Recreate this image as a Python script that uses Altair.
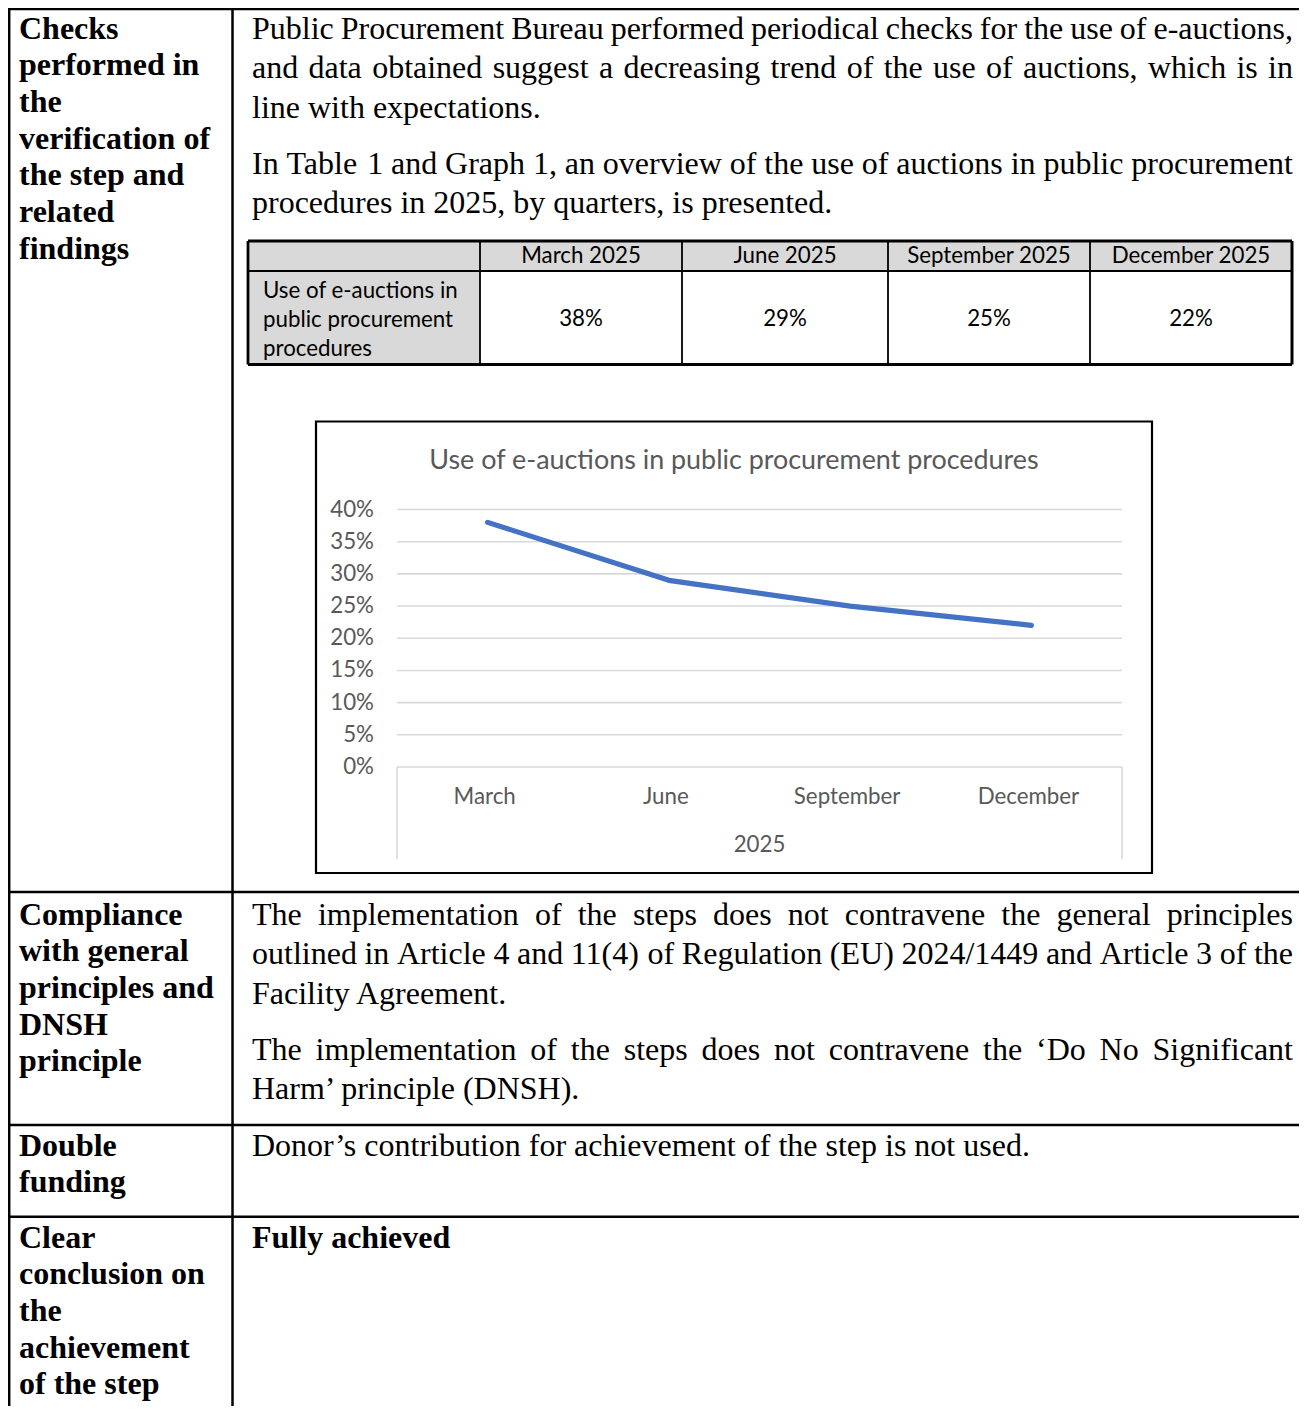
import altair as alt
import pandas as pd

# ---------------- chart data ----------------
months = ["March", "June", "September", "December"]
year = "2025"
usage = [0.38, 0.29, 0.25, 0.22]
y_ticks = [0.0, 0.05, 0.10, 0.15, 0.20, 0.25, 0.30, 0.35, 0.40]
chart_title = "Use of e-auctions in public procurement procedures"
row_label = ["Use of e-auctions in", "public procurement", "procedures"]

# ---------------- document text ----------------
left_headings = [
    ["Checks", "performed in", "the", "verification of", "the step and", "related", "findings"],
    ["Compliance", "with general", "principles and", "DNSH", "principle"],
    ["Double", "funding"],
    ["Clear", "conclusion on", "the", "achievement", "of the step"],
]
paragraphs = [
    ["Public Procurement Bureau performed periodical checks for the use of e-auctions,",
     "and data obtained suggest a decreasing trend of the use of auctions, which is in",
     "line with expectations."],
    ["In Table 1 and Graph 1, an overview of the use of auctions in public procurement",
     "procedures in 2025, by quarters, is presented."],
    ["The implementation of the steps does not contravene the general principles",
     "outlined in Article 4 and 11(4) of Regulation (EU) 2024/1449 and Article 3 of the",
     "Facility Agreement."],
    ["The implementation of the steps does not contravene the \u2018Do No Significant",
     "Harm\u2019 principle (DNSH)."],
    ["Donor\u2019s contribution for achievement of the step is not used."],
]
conclusion = "Fully achieved"

# ---------------- layout (image pixel coordinates) ----------------
OFF = 8                      # page margin
W, H = 1307 - 2 * OFF, 1414 - 2 * OFF


def c(v):
    return v - OFF


FS = 32                      # Times size
LEFT_X, RX0, RX1 = 19, 252, 1293
LEFT_STEP, RIGHT_STEP = 36.7, 39.6
left_first = [38.5, 924.5, 1155.5, 1247.5]
para_first = [38.5, 173.5, 924.5, 1059.5, 1155.5]
concl_first = 1247.5

TIMES = {' ': 250, '!': 333, '%': 833, "'": 180, '(': 333, ')': 333, ',': 250, '-': 333,
         '.': 250, '/': 278, ':': 278, ';': 278, '?': 444, '\u2018': 333, '\u2019': 333,
         'A': 722, 'B': 667, 'C': 667, 'D': 722, 'E': 611, 'F': 556, 'G': 722, 'H': 722,
         'I': 333, 'J': 389, 'K': 722, 'L': 611, 'M': 889, 'N': 722, 'O': 722, 'P': 556,
         'Q': 722, 'R': 667, 'S': 556, 'T': 611, 'U': 722, 'V': 722, 'W': 944, 'X': 722,
         'Y': 722, 'Z': 611, 'a': 444, 'b': 500, 'c': 444, 'd': 500, 'e': 444, 'f': 333,
         'g': 500, 'h': 500, 'i': 278, 'j': 278, 'k': 500, 'l': 278, 'm': 778, 'n': 500,
         'o': 500, 'p': 500, 'q': 500, 'r': 333, 's': 389, 't': 278, 'u': 500, 'v': 500,
         'w': 722, 'x': 500, 'y': 500, 'z': 444}


def tw(s):
    return sum(TIMES.get(ch, 500) for ch in s) / 1000.0 * FS


# regular justified body text, word by word
reg_rows = []
for para, y0 in zip(paragraphs, para_first):
    for i, line in enumerate(para):
        y = y0 + i * RIGHT_STEP
        words = line.split(" ")
        if i == len(para) - 1 or len(words) == 1:
            reg_rows.append(dict(text=line, px=c(RX0), py=c(y)))
        else:
            total = sum(tw(w) for w in words)
            gap = (RX1 - RX0 - total) / (len(words) - 1)
            x = RX0
            for w in words:
                reg_rows.append(dict(text=w, px=c(x), py=c(y)))
                x += tw(w) + gap
reg_df = pd.DataFrame(reg_rows)

bold_rows = []
for block, y0 in zip(left_headings, left_first):
    for i, line in enumerate(block):
        bold_rows.append(dict(text=line, px=c(LEFT_X), py=c(y0 + i * LEFT_STEP)))
bold_rows.append(dict(text=conclusion, px=c(RX0), py=c(concl_first)))
bold_df = pd.DataFrame(bold_rows)

# frame lines of the document table and the small data table
col_edges = [480, 682, 888, 1090, 1292]
TT, TM, TB, TL = 241, 271, 364.5, 248
frame = []
frame.append(dict(x=0, x2=W, y=c(9), y2=c(9), w=2.5))          # top
frame.append(dict(x=1.2, x2=1.2, y=0, y2=H, w=2.5))            # left
frame.append(dict(x=c(232.5), x2=c(232.5), y=0, y2=H, w=2.5))  # column separator
for ry in [892, 1125, 1216.7]:
    frame.append(dict(x=0, x2=W, y=c(ry), y2=c(ry), w=2.5))
# small table
frame.append(dict(x=c(TL), x2=c(col_edges[-1]), y=c(TM), y2=c(TM), w=1.8))
for cx in col_edges[:-1]:
    frame.append(dict(x=c(cx), x2=c(cx), y=c(TT), y2=c(TB), w=1.8))
frame.append(dict(x=c(TL), x2=c(col_edges[-1]), y=c(TT), y2=c(TT), w=2.8))
frame.append(dict(x=c(TL), x2=c(col_edges[-1]), y=c(TB), y2=c(TB), w=3))
frame.append(dict(x=c(TL), x2=c(TL), y=c(TT), y2=c(TB), w=2.8))
frame.append(dict(x=c(col_edges[-1]), x2=c(col_edges[-1]), y=c(TT), y2=c(TB), w=3))
frame_df = pd.DataFrame(frame)

fills_df = pd.DataFrame([
    dict(x=c(TL), x2=c(col_edges[-1]), y=c(TT), y2=c(TM)),
    dict(x=c(TL), x2=c(col_edges[0]), y=c(TM), y2=c(TB)),
])

# table texts
centers = [(a + b) / 2 for a, b in zip(col_edges[:-1], col_edges[1:])]
head_df = pd.DataFrame(dict(text=[f"{m} {year}" for m in months],
                            px=[c(v) for v in centers], py=c(256)))
val_df = pd.DataFrame(dict(share=usage, px=[c(v) for v in centers], py=c(319)))
lab_df = pd.DataFrame(dict(text=row_label, px=c(263), py=[c(291), c(320), c(349)]))

SANS = "Lato"
GREY = "#595959"
GRID = "#D9D9D9"


def pos(field_x="px", field_y="py"):
    return dict(x=alt.X(f"{field_x}:Q", scale=None, axis=None),
                y=alt.Y(f"{field_y}:Q", scale=None, axis=None))


fills = alt.Chart(fills_df).mark_rect(color="#D9D9D9").encode(
    x=alt.X("x:Q", scale=None, axis=None), x2="x2:Q",
    y=alt.Y("y:Q", scale=None, axis=None), y2="y2:Q")

frames = alt.Chart(frame_df).mark_rule(color="black").encode(
    x=alt.X("x:Q", scale=None, axis=None), x2="x2:Q",
    y=alt.Y("y:Q", scale=None, axis=None), y2="y2:Q",
    strokeWidth=alt.StrokeWidth("w:Q", scale=None, legend=None))

body = alt.Chart(reg_df).mark_text(font="Liberation Serif", fontSize=FS, align="left",
                                   baseline="alphabetic", color="black").encode(
    text="text:N", **pos())
heads = alt.Chart(bold_df).mark_text(font="Liberation Serif", fontSize=FS, fontWeight="bold",
                                     align="left", baseline="alphabetic", color="black").encode(
    text="text:N", **pos())

tab_head = alt.Chart(head_df).mark_text(font=SANS, fontSize=22.3, align="center",
                                        baseline="middle", color="black").encode(
    text="text:N", **pos())
tab_vals = alt.Chart(val_df).mark_text(font=SANS, fontSize=22.3, align="center",
                                       baseline="middle", color="black").encode(
    text=alt.Text("share:Q", format=".0%"), **pos())
tab_lab = alt.Chart(lab_df).mark_text(font=SANS, fontSize=22.3, align="left",
                                      baseline="middle", color="black").encode(
    text="text:N", **pos())

# ---------------- embedded line chart ----------------
line_df = pd.DataFrame(dict(month=months, share=usage))
tick_df = pd.DataFrame(dict(share=y_ticks))
mon_df = pd.DataFrame(dict(month=months))

xs = alt.Scale(type="point", domain=months, range=[c(397), c(1122)], padding=0.5)
ys = alt.Scale(domain=[0, 0.4], range=[c(767), c(509.5)])
X = alt.X("month:N", scale=xs, sort=months, axis=None)
Y = alt.Y("share:Q", scale=ys, axis=None)

box = alt.Chart(pd.DataFrame([dict(x=c(316), x2=c(1152), y=c(421.5), y2=c(873))])).mark_rect(
    fill="white", stroke="black", strokeWidth=2.2).encode(
    x=alt.X("x:Q", scale=None, axis=None), x2="x2:Q",
    y=alt.Y("y:Q", scale=None, axis=None), y2="y2:Q")

grid = alt.Chart(tick_df).mark_rule(color=GRID, strokeWidth=1.6).encode(
    y=Y, x=alt.value(c(397)), x2=alt.value(c(1122)))

cat_box = alt.Chart(pd.DataFrame(dict(edge=[c(397), c(1122)]))).mark_rule(
    color=GRID, strokeWidth=1.6).encode(
    x=alt.X("edge:Q", scale=None, axis=None), y=alt.value(c(767)), y2=alt.value(c(859)))

line = alt.Chart(line_df).mark_line(color="#4472C4", strokeWidth=5.2, strokeCap="round",
                                    strokeJoin="round").encode(x=X, y=Y)

ylabels = alt.Chart(tick_df).mark_text(font=SANS, fontSize=22.3, align="right",
                                       baseline="middle", color=GREY).encode(
    y=Y, x=alt.value(c(374)), text=alt.Text("share:Q", format=".0%"))

xlabels = alt.Chart(mon_df).mark_text(font=SANS, fontSize=22.3, align="center",
                                      baseline="middle", color=GREY, dx=-3).encode(
    x=X, y=alt.value(c(797)), text="month:N")

year_lbl = alt.Chart(pd.DataFrame(dict(text=[year]))).mark_text(
    font=SANS, fontSize=22.3, align="center", baseline="middle", color=GREY).encode(
    x=alt.value(c(759.5)), y=alt.value(c(845)), text="text:N")

title = alt.Chart(pd.DataFrame(dict(text=[chart_title]))).mark_text(
    font=SANS, fontSize=26.9, align="center", baseline="middle", color=GREY).encode(
    x=alt.value(c(734)), y=alt.value(c(461)), text="text:N")

chart = alt.layer(
    fills, frames, body, heads, tab_head, tab_vals, tab_lab,
    box, grid, cat_box, line, ylabels, xlabels, year_lbl, title,
).resolve_scale(x="independent", y="independent").properties(
    width=W, height=H, autosize="none", padding=0, background="white",
).configure_view(strokeWidth=0)

chart.save("out.html", embed_options={"renderer": "svg", "actions": False})
